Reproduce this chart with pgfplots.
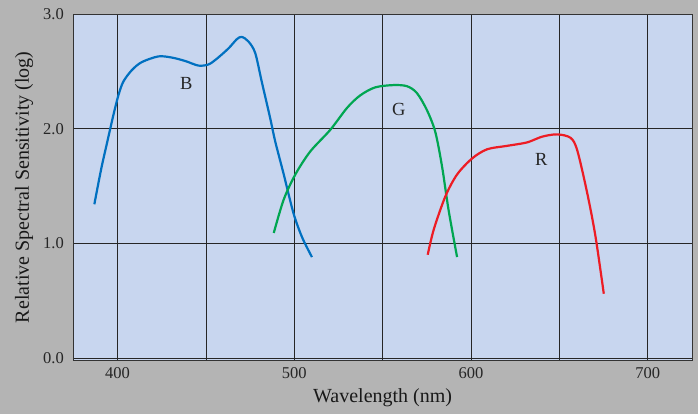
\documentclass[border=0pt]{standalone}
\usepackage{pgfplots}
\pgfplotsset{compat=1.18}
\usepackage{fontspec}
\setmainfont{Liberation Serif}

\definecolor{bggray}{RGB}{180,180,180}
\definecolor{plotbg}{RGB}{200,214,239}
\definecolor{bcurve}{RGB}{0,112,192}
\definecolor{gcurve}{RGB}{0,166,81}
\definecolor{rcurve}{RGB}{237,28,36}

\begin{document}
\begin{tikzpicture}
\fill[bggray] (0,0) rectangle (698pt,414pt);
\begin{axis}[
  at={(73.3pt,53.3pt)}, anchor=south west,
  scale only axis, width=618.7pt, height=346.7pt,
  xmin=375, xmax=725, ymin=-0.024, ymax=3,
  axis background/.style={fill=plotbg},
  axis line style={draw=black!80, line width=0.9pt},
  xtick={400,500,600,700}, minor xtick={450,550,650},
  ytick={0,1,2,3},
  major tick length=0pt, minor tick length=0pt,
  xmajorgrids, xminorgrids, ymajorgrids,
  grid style={black!85, line width=0.7pt},
  minor grid style={black!85, line width=0.7pt},
  yticklabel style={/pgf/number format/fixed, /pgf/number format/fixed zerofill, /pgf/number format/precision=1},
  /pgf/number format/assume math mode=true,
  ticklabel style={font=\fontsize{16.5}{18}\selectfont, text=black!85},
  xticklabel style={yshift=-3.5pt},
  yticklabel style={xshift=-6pt},
  label style={font=\fontsize{20}{22}\selectfont, text=black!90},
  xlabel={Wavelength (nm)},
  ylabel={Relative Spectral Sensitivity (log)},
  xlabel style={at={(axis description cs:0.5,-0.1076)}, anchor=center},
  ylabel style={at={(axis description cs:-0.0797,0.5)}, anchor=center},
  every axis plot/.append style={smooth, line width=2.2pt, no marks},
]
% blue (B) receptor
\addplot[bcurve] coordinates {
  (386.9,1.34) (390.8,1.65) (394.0,1.87) (397.7,2.12) (400.5,2.29)
  (403.3,2.41) (408.1,2.51) (413.7,2.58) (423.1,2.63) (430.7,2.62)
  (438.3,2.59) (445.8,2.55) (451.5,2.56) (456.2,2.61) (462.8,2.70)
  (467.5,2.78) (470.3,2.80) (474.1,2.76) (477.9,2.66) (481.6,2.41)
  (486.4,2.09) (489.2,1.89) (493.9,1.61) (499.6,1.26) (504.5,1.05)
  (510.0,0.88)
};
% green (G) receptor
\addplot[gcurve] coordinates {
  (488.4,1.09) (494.0,1.38) (500.6,1.60) (509.0,1.80) (520.4,1.99)
  (529.8,2.18) (537.3,2.29) (545.8,2.36) (556.2,2.38) (563.8,2.37)
  (569.4,2.31) (575.1,2.16) (579.8,1.97) (583.6,1.67) (587.3,1.29)
  (592.1,0.88)
};
% red (R) receptor
\addplot[rcurve] coordinates {
  (575.5,0.90) (578.9,1.12) (585.5,1.41) (592.1,1.60) (600.6,1.74)
  (609.1,1.82) (620.4,1.85) (631.7,1.88) (640.2,1.93) (648.7,1.95)
  (656.3,1.92) (660.1,1.81) (665.7,1.44) (670.4,1.06) (675.1,0.56)
};
\node[font=\fontsize{18.5}{20}\selectfont, text=black!85] at (axis cs:438.9,2.39) {B};
\node[font=\fontsize{18.5}{20}\selectfont, text=black!85] at (axis cs:559.2,2.17) {G};
\node[font=\fontsize{18.5}{20}\selectfont, text=black!85] at (axis cs:639.8,1.73) {R};
\end{axis}
\end{tikzpicture}
\end{document}
